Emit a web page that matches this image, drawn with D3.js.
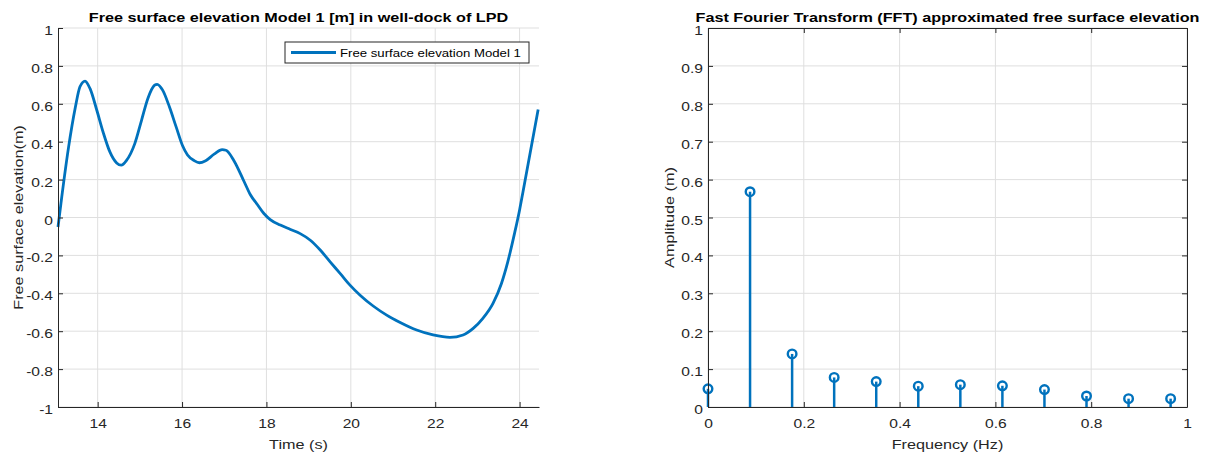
<!DOCTYPE html>
<html>
<head>
<meta charset="utf-8">
<script src="https://cdn.jsdelivr.net/npm/d3@7"></script>
<style>
  body { margin: 0; background: #fff; }
  svg { display: block; font-family: "Liberation Sans", Arial, Helvetica, sans-serif; }
</style>
</head>
<body>
<div id="chart"></div>
<script>
// time series
var timeS = [13.06, 13.15, 13.31, 13.47, 13.58, 13.70, 13.82, 13.98, 14.13, 14.29, 14.45, 14.56, 14.68, 14.88,
  15.04, 15.19, 15.35, 15.41, 15.54, 15.70, 15.86, 16.01, 16.13, 16.29, 16.41, 16.56, 16.76, 16.95, 17.04,
  17.23, 17.47, 17.62, 17.78, 17.94, 18.09, 18.33, 18.57, 18.80, 19.04, 19.28, 19.51, 19.75, 19.98, 20.22,
  20.53, 20.85, 21.17, 21.56, 21.95, 22.35, 22.66, 22.90, 23.13, 23.37, 23.57, 23.72, 23.88, 24.00, 24.08,
  24.25, 24.44];
var elevation = [-0.05, 0.11, 0.37, 0.58, 0.69, 0.72, 0.68, 0.566, 0.45, 0.346, 0.288, 0.276, 0.30, 0.39,
  0.513, 0.628, 0.698, 0.703, 0.672, 0.584, 0.478, 0.38, 0.33, 0.30, 0.289, 0.30, 0.334, 0.358, 0.355,
  0.30, 0.19, 0.12, 0.07, 0.021, -0.011, -0.04, -0.063, -0.085, -0.12, -0.173, -0.234, -0.296, -0.357, -0.41,
  -0.467, -0.515, -0.554, -0.594, -0.62, -0.633, -0.62, -0.585, -0.532, -0.453, -0.348, -0.234, -0.084, 0.04, 0.135,
  0.34, 0.57];

// FFT stems
var freqHz = [0, 0.0878, 0.1756, 0.2634, 0.3512, 0.439, 0.5268, 0.6146, 0.7024, 0.7902, 0.878, 0.9658];
var amplitude = [0.048, 0.568, 0.140, 0.078, 0.067, 0.055, 0.059, 0.056, 0.046, 0.029, 0.022, 0.022];

// tick labels
var timeTicks = [14, 16, 18, 20, 22, 24];
var elevTicks = [-1, -0.8, -0.6, -0.4, -0.2, 0, 0.2, 0.4, 0.6, 0.8, 1];
var freqTicks = [0, 0.2, 0.4, 0.6, 0.8, 1];
var ampTicks = [0, 0.1, 0.2, 0.3, 0.4, 0.5, 0.6, 0.7, 0.8, 0.9, 1];

var blue = "#0072bd";
var axisCol = "#262626";
var gridCol = "#dfdfdf";
var SX = 1.2;   // text in the picture is a bit wider than Arial

var svg = d3.select("#chart").append("svg")
  .attr("width", 1207)
  .attr("height", 457);

function fmt(d) { return d3.format("")(+d.toFixed(1)).replace("−", "-"); }

function stretchText(g, side) {
  var t = g.selectAll(".tick text")
    .attr("fill", axisCol)
    .attr("font-size", "13px")
    .attr("dy", null)
    .attr("transform", "scale(" + SX + ",1)");
  if (side == "bottom") t.attr("y", 21);
  if (side == "left") t.attr("x", -5 / SX).attr("y", 6.5);
}

function label(x, y, txt, rot, opts) {
  var g = svg.append("g").attr("transform", "translate(" + x + "," + y + ") rotate(" + rot + ") scale(" + SX + ",1)");
  g.append("text")
    .attr("text-anchor", opts.anchor || "middle")
    .attr("font-size", opts.size)
    .attr("font-weight", opts.weight || "normal")
    .attr("fill", opts.fill || axisCol)
    .text(txt);
}

function grid(g, x, y, xt, yt, w, h) {
  g.selectAll(".gx").data(xt).join("line")
    .attr("x1", d => x(d)).attr("x2", d => x(d))
    .attr("y1", 0).attr("y2", h)
    .attr("stroke", gridCol).attr("stroke-width", 1);
  g.selectAll(".gy").data(yt).join("line")
    .attr("x1", 0).attr("x2", w)
    .attr("y1", d => y(d)).attr("y2", d => y(d))
    .attr("stroke", gridCol).attr("stroke-width", 1);
}

function styleAxis(g) {
  g.selectAll("path, line").attr("stroke", axisCol);
  g.select(".domain").attr("stroke-width", 1);
}

// ---------- left panel ----------
var L = { left: 58, top: 28, width: 481, height: 379 };
var xT = d3.scaleLinear().domain([13.06, 24.46]).range([0, L.width]);
var yE = d3.scaleLinear().domain([-1, 1]).range([L.height, 0]);

var left = svg.append("g").attr("transform", "translate(" + L.left + "," + L.top + ")");
grid(left.append("g"), xT, yE, timeTicks, elevTicks, L.width, L.height);

var line = d3.line()
  .x((d, i) => xT(timeS[i]))
  .y(d => yE(d))
  .curve(d3.curveMonotoneX);

left.append("path")
  .datum(elevation)
  .attr("d", line)
  .attr("fill", "none")
  .attr("stroke", blue)
  .attr("stroke-width", 2.8)
  .attr("stroke-linejoin", "round");

var lx = left.append("g").attr("transform", "translate(0," + L.height + ")")
  .call(d3.axisBottom(xT).tickValues(timeTicks).tickSizeInner(-5).tickSizeOuter(0));
styleAxis(lx); stretchText(lx, "bottom");

var ly = left.append("g")
  .call(d3.axisLeft(yE).tickValues(elevTicks).tickFormat(fmt).tickSizeInner(-5).tickSizeOuter(0));
styleAxis(ly); stretchText(ly, "left");

// legend
var leg = left.append("g").attr("transform", "translate(227,14)");
leg.append("rect").attr("width", 244).attr("height", 21)
  .attr("fill", "#fff").attr("stroke", axisCol).attr("stroke-width", 1);
leg.append("line").attr("x1", 6).attr("x2", 51).attr("y1", 10.5).attr("y2", 10.5)
  .attr("stroke", blue).attr("stroke-width", 2.8);
leg.append("g").attr("transform", "translate(55,15) scale(" + SX + ",1)")
  .append("text").attr("font-size", "11px").attr("fill", "#000")
  .text("Free surface elevation Model 1");

label(298.5, 22, "Free surface elevation Model 1 [m] in well-dock of LPD", 0, { size: "13.5px", weight: "bold", fill: "#000" });
label(298.5, 449, "Time (s)", 0, { size: "13.5px" });
label(23, 217.5, "Free surface elevation(m)", -90, { size: "13.5px" });

// ---------- right panel ----------
var R = { left: 708, top: 28, width: 479, height: 379 };
var xF = d3.scaleLinear().domain([0, 1]).range([0, R.width]);
var yA = d3.scaleLinear().domain([0, 1]).range([R.height, 0]);

var right = svg.append("g").attr("transform", "translate(" + R.left + "," + R.top + ")");
grid(right.append("g"), xF, yA, freqTicks, ampTicks, R.width, R.height);

var stems = right.append("g").selectAll("g").data(amplitude).join("g");
stems.append("line")
  .attr("x1", (d, i) => xF(freqHz[i])).attr("x2", (d, i) => xF(freqHz[i]))
  .attr("y1", yA(0)).attr("y2", d => yA(d))
  .attr("stroke", blue).attr("stroke-width", 2.5);
stems.append("circle")
  .attr("cx", (d, i) => xF(freqHz[i])).attr("cy", d => yA(d))
  .attr("r", 4.3)
  .attr("fill", "none").attr("stroke", blue).attr("stroke-width", 2.4);

var rx = right.append("g").attr("transform", "translate(0," + R.height + ")")
  .call(d3.axisBottom(xF).tickValues(freqTicks).tickFormat(fmt).tickSizeInner(-5).tickSizeOuter(0));
styleAxis(rx); stretchText(rx, "bottom");
var rxTop = right.append("g")
  .call(d3.axisTop(xF).tickValues(freqTicks).tickFormat("").tickSizeInner(-5).tickSizeOuter(0));
styleAxis(rxTop);
var ry = right.append("g")
  .call(d3.axisLeft(yA).tickValues(ampTicks).tickFormat(fmt).tickSizeInner(-5).tickSizeOuter(0));
styleAxis(ry); stretchText(ry, "left");
var ryRight = right.append("g").attr("transform", "translate(" + R.width + ",0)")
  .call(d3.axisRight(yA).tickValues(ampTicks).tickFormat("").tickSizeInner(-5).tickSizeOuter(0));
styleAxis(ryRight);

label(947.5, 22, "Fast Fourier Transform (FFT) approximated free surface elevation", 0, { size: "13.5px", weight: "bold", fill: "#000" });
label(947.5, 449, "Frequency (Hz)", 0, { size: "13.5px" });
label(674, 217.5, "Amplitude (m)", -90, { size: "13.5px" });
</script>
</body>
</html>
